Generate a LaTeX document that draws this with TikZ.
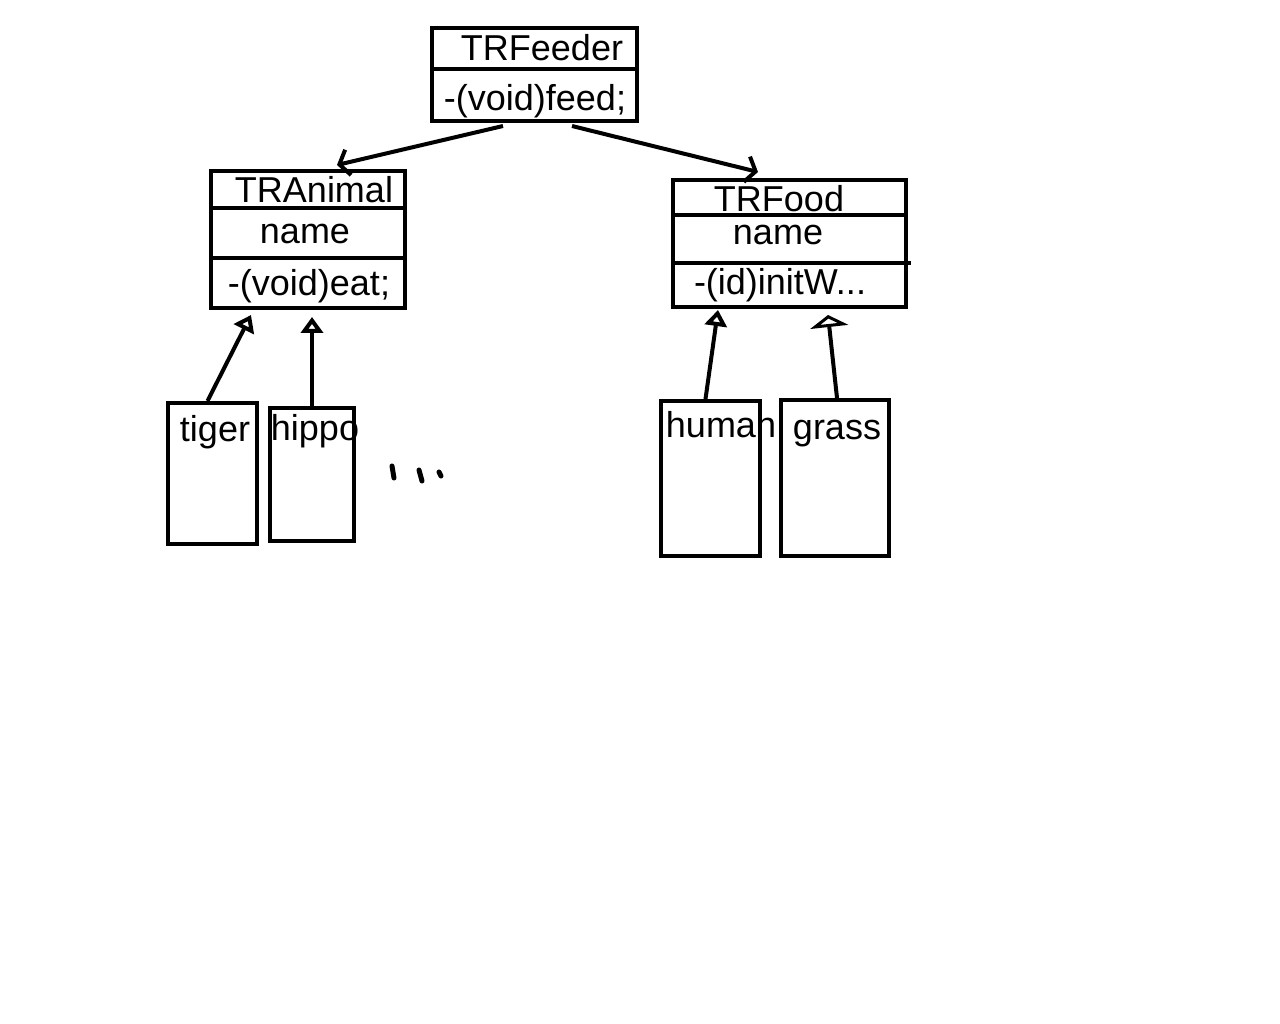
\documentclass[tikz,border=0pt]{standalone}
\usepackage{fontspec}
\setmainfont{Liberation Sans}
\usetikzlibrary{positioning,arrows.meta,calc}

\begin{document}
\begin{tikzpicture}[x=1pt,y=-1pt]

	\tikzstyle{clsbox}=[draw, rectangle, line width=4pt, inner sep=0pt];
	\tikzstyle{lbl}=[inner sep=0pt, anchor=base, font=\fontsize{36}{42}\selectfont];
	\tikzstyle{divline}=[line width=4pt];
	\tikzstyle{assoc}=[line width=4pt, -{Straight Barb[length=9pt,width=26pt,line width=4pt]}];
	\tikzstyle{gen}=[line width=4pt, -{Triangle[open,length=16pt,width=22pt,line width=4pt]}];
	\tikzstyle{genwide}=[line width=4pt, -{Triangle[open,length=12pt,width=38pt,line width=4pt]}];
	\useasboundingbox (0,0) rectangle (1280,1024);
    \begin{scope}

    	\node (feeder_cls) at (534.5,74.5) [clsbox, minimum width=205pt, minimum height=93pt]{};
    	\node (animal_cls) at (308,239.5) [clsbox, minimum width=194pt, minimum height=137pt]{};
    	\node (food_cls) at (789.5,243.5) [clsbox, minimum width=233pt, minimum height=127pt]{};

    	\draw[divline] ($(feeder_cls.north west)!0.44!(feeder_cls.south west)$) -- ($(feeder_cls.north east)!0.44!(feeder_cls.south east)$);
    	\draw[divline] ($(animal_cls.north west)!0.277!(animal_cls.south west)$) -- ($(animal_cls.north east)!0.277!(animal_cls.south east)$);
    	\draw[divline] ($(animal_cls.north west)!0.628!(animal_cls.south west)$) -- ($(animal_cls.north east)!0.628!(animal_cls.south east)$);
    	\draw[divline] ($(food_cls.north west)!0.283!(food_cls.south west)$) -- ($(food_cls.north east)!0.283!(food_cls.south east)$);
    	\draw[divline] ($(food_cls.north west)!0.646!(food_cls.south west)$) -- ([xshift=3pt]$(food_cls.north east)!0.646!(food_cls.south east)$);

    	\node (feeder_title) at (542,61) [lbl]{TRFeeder};
    	\node (feeder_op) at (535,111) [lbl]{-(void)feed;};
    	\node (animal_title) at (314,203) [lbl]{TRAnimal};
    	\node (animal_attr) at (305,244) [lbl]{name};
    	\node (animal_op) at (309,296) [lbl]{-(void)eat;};
    	\node (food_title) at (779,212) [lbl]{TRFood};
    	\node (food_attr) at (778,245) [lbl]{name};
    	\node (food_op) at (780,295) [lbl]{-(id)initW...};

    	\node (tiger_cls) at (212.5,473.5) [clsbox, minimum width=89pt, minimum height=141pt]{};
    	\node (hippo_cls) at (312,474.5) [clsbox, minimum width=84pt, minimum height=133pt]{};
    	\node (human_cls) at (710.5,478.5) [clsbox, minimum width=99pt, minimum height=155pt]{};
    	\node (grass_cls) at (835,478) [clsbox, minimum width=108pt, minimum height=156pt]{};

    	\node (tiger_name) at (215,441) [lbl]{tiger};
    	\node (hippo_name) at (315,440) [lbl]{hippo};
    	\node (human_name) at (721,437) [lbl]{human};
    	\node (grass_name) at (837,439) [lbl]{grass};

    	\draw[assoc] ([xshift=-31.5pt, yshift=-3pt]feeder_cls.south) -- ([xshift=29pt, yshift=4pt]animal_cls.north);
    	\draw[assoc] ([xshift=37.5pt, yshift=-3pt]feeder_cls.south) -- ([xshift=-31.5pt, yshift=6pt]food_cls.north);

    	\draw[gen] ([xshift=-5pt]tiger_cls.north) -- ([xshift=-57pt, yshift=-5pt]animal_cls.south);
    	\draw[gen] (hippo_cls.north) -- ([xshift=4pt, yshift=-7pt]animal_cls.south);
    	\draw[gen] ([xshift=-5pt]human_cls.north) -- ([xshift=-71.5pt, yshift=-1pt]food_cls.south);
    	\draw[genwide] ([xshift=2pt]grass_cls.north) -- ([xshift=38.5pt, yshift=-6pt]food_cls.south);

    	\draw[line width=5pt, line cap=round] (392,466) -- (394,478);
    	\draw[line width=5pt, line cap=round] (419,470) -- (422,481);
    	\draw[line width=5pt, line cap=round] (439,472) -- (441,476);

    \end{scope}
\end{tikzpicture}
\end{document}
